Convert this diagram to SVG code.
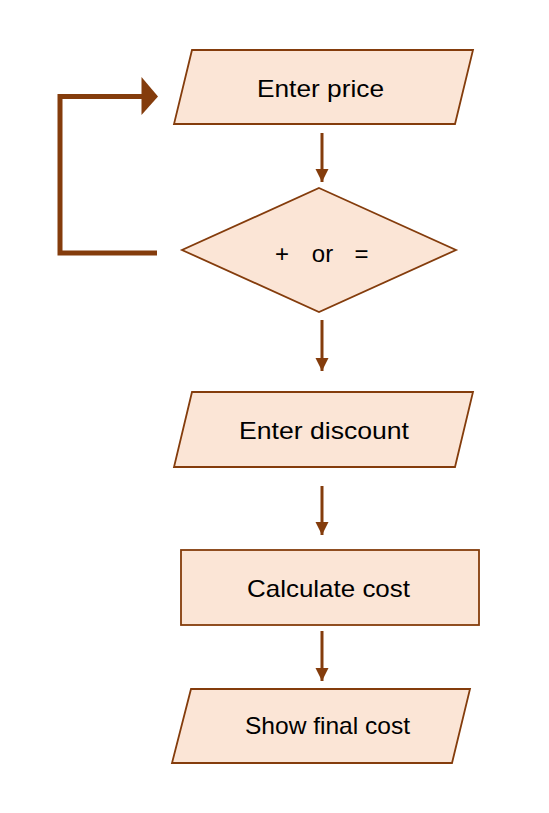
<svg xmlns="http://www.w3.org/2000/svg" width="549" height="813" viewBox="0 0 549 813">
<style>
.shape{fill:#FBE5D6;stroke:#843C0C;stroke-width:1.8}
.lbl{font-family:"Liberation Sans",Arial,sans-serif;font-size:24px;fill:#000;text-anchor:middle}
.conn{stroke:#843C0C;stroke-width:3;fill:none}
.loop{stroke:#843C0C;stroke-width:5;fill:none}
</style>
<defs>
<marker id="ah" markerUnits="userSpaceOnUse" markerWidth="13" markerHeight="14" refX="13" refY="6.5" orient="auto" viewBox="0 0 13 13">
<path d="M0,0 L13,6.5 L0,13 Z" fill="#843C0C"/>
</marker>
</defs>
<rect width="549" height="813" fill="#fff"/>
<g id="connectors">
<line class="conn" x1="322" y1="133" x2="322" y2="182" marker-end="url(#ah)"/>
<line class="conn" x1="322" y1="320" x2="322" y2="371" marker-end="url(#ah)"/>
<line class="conn" x1="322" y1="486" x2="322" y2="535" marker-end="url(#ah)"/>
<line class="conn" x1="322" y1="631" x2="322" y2="681" marker-end="url(#ah)"/>
<path class="loop" d="M157,253 H60 V96.5 H143"/>
<path d="M141.5,77 L158,96.5 L141.5,115 Z" fill="#843C0C"/>
</g>
<g id="enter-price">
<polygon class="shape" points="192,50 473,50 455,124 174,124"/>
<text class="lbl" x="320.5" y="97" textLength="127" lengthAdjust="spacingAndGlyphs">Enter price</text>
</g>
<g id="decision">
<polygon class="shape" points="319,188 456,250 319,312 182,250"/>
<text class="lbl" y="262"><tspan x="282">+</tspan><tspan x="322.5">or</tspan><tspan x="361.5">=</tspan></text>
</g>
<g id="enter-discount">
<polygon class="shape" points="192,392 473,392 455,467 174,467"/>
<text class="lbl" x="324" y="439" textLength="170" lengthAdjust="spacingAndGlyphs">Enter discount</text>
</g>
<g id="calculate-cost">
<rect class="shape" x="181" y="550" width="298" height="75"/>
<text class="lbl" x="328.5" y="597" textLength="163" lengthAdjust="spacingAndGlyphs">Calculate cost</text>
</g>
<g id="show-final-cost">
<polygon class="shape" points="191,689 470,689 452,763 172,763"/>
<text class="lbl" x="327.5" y="734" textLength="165" lengthAdjust="spacingAndGlyphs">Show final cost</text>
</g>
</svg>
